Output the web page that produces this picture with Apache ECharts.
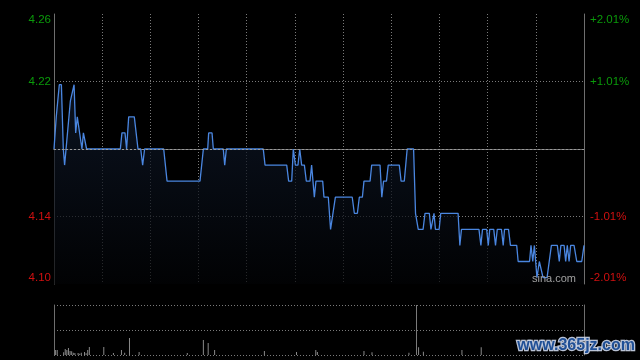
<!DOCTYPE html>
<html>
<head>
<meta charset="utf-8">
<script src="https://cdn.jsdelivr.net/npm/echarts@6/dist/echarts.min.js"></script>
<style>html,body{margin:0;padding:0;background:#000;}#c{width:640px;height:360px;}</style>
</head>
<body>
<div id="c"></div>
<script>
// ---- data ----
const prevClose = 4.18;
const priceMin = 4.096, priceMax = 4.264;
const minutes = [0,1.4,2.5,3.3,4.6,5.8,6.6,10.2,11.2,12.5,13.5,14.5,15.4,17.4,18.3,19.3,20.3,41.3,42.3,44.2,45.2,46.5,50,52.3,54,55.2,56.4,68.3,70.4,90.9,93,95.7,96.3,98.4,99.2,105.4,106.3,107.3,130.3,131.4,144.9,146.1,148,149,150.3,151.9,153,154.2,155.9,157.1,159.4,160.4,161,162.1,163.1,167.3,168.1,170.8,172.2,173.3,175.2,185.7,187,188.9,190.1,192,193,196.8,197.8,203,204.1,205.2,207,208.1,215,216.1,218.1,219.9,223.9,225.1,225.8,226.8,229.8,231,233.7,234.7,235.4,236.6,237.5,239.8,240.8,251.6,252.7,253.7,264.6,265.8,266.8,269.4,270.4,271.3,273.8,274.9,276,278.6,279.7,280.5,283,284.2,288.1,289,296.1,297,298.1,299.1,300.7,302.2,303.4,304.5,307,309.7,313.4,314.6,315.6,317.6,318.6,319.6,320.7,321.7,323.8,325.5,328.6,330];
const prices = [4.18,4.20,4.20,4.22,4.22,4.18,4.17,4.21,4.21,4.22,4.19,4.20,4.20,4.18,4.19,4.19,4.18,4.18,4.19,4.19,4.18,4.20,4.20,4.18,4.18,4.17,4.18,4.18,4.16,4.16,4.18,4.18,4.19,4.19,4.18,4.18,4.17,4.18,4.18,4.17,4.17,4.16,4.16,4.18,4.17,4.17,4.18,4.17,4.17,4.16,4.16,4.17,4.17,4.15,4.16,4.16,4.15,4.15,4.13,4.13,4.15,4.15,4.14,4.14,4.15,4.15,4.16,4.16,4.17,4.17,4.15,4.16,4.16,4.17,4.17,4.16,4.16,4.18,4.18,4.14,4.14,4.13,4.13,4.14,4.14,4.13,4.13,4.14,4.13,4.13,4.14,4.14,4.12,4.13,4.13,4.12,4.13,4.13,4.12,4.13,4.13,4.12,4.13,4.13,4.12,4.13,4.13,4.12,4.12,4.11,4.11,4.12,4.11,4.12,4.10,4.11,4.11,4.10,4.10,4.12,4.12,4.11,4.12,4.12,4.11,4.12,4.11,4.12,4.12,4.11,4.11,4.12];
const volMinutes = [1,2,6,7,8,9,10,11,12,13,15,16,17,19,20,21,22,31,37,42,44,47,53,83,93,96,100,131,151,163,164,193,198,221,227,230,254,266];
const volumes = [5,5,2.7,6,5,7,4,3.7,2.3,2,2,1.3,2.3,3,1.7,5,8,8,2,5,2.3,17,3,2,15,12,5,4,3,5,3,4,2.7,2.3,7.7,3.3,5,7.7];
const priceTickLabels = ['4.10','4.14','','4.22','4.26'];
const pctTickLabels = ['-2.01%','-1.01%','','+1.01%','+2.01%'];
const cursorMinute = 225.4;

const pctStep = 1.005;
const upColor = '#0a9a0a', downColor = '#d01010';
const gridColor = '#7a7a7a', borderColor = '#6e6e6e';
const font = 'Liberation Sans';

const priceData = minutes.map((m, i) => [m, prices[i]]);
const volData = volMinutes.map((m, i) => [m, volumes[i]]);
const idx = v => Math.round(v / pctStep) + 2;

const chart = echarts.init(document.getElementById('c'), null, {renderer: 'canvas'});
chart.setOption({
  backgroundColor: '#000',
  animation: false,
  grid: [
    {left: 54, right: 56, top: 14, height: 270},
    {left: 54, right: 56, top: 305, height: 50}
  ],
  xAxis: [
    {type: 'value', gridIndex: 0, min: 0, max: 330, interval: 30,
     axisLine: {show: true, lineStyle: {color: borderColor}}, axisTick: {show: false}, axisLabel: {show: false},
     splitLine: {show: true, showMinLine: false, showMaxLine: false, lineStyle: {color: gridColor, type: [1, 2]}}},
    {type: 'value', gridIndex: 1, min: 0, max: 330, show: false},
    {type: 'value', gridIndex: 0, position: 'top', min: 0, max: 330,
     axisLine: {show: true, lineStyle: {color: borderColor}}, axisTick: {show: false}, axisLabel: {show: false}, splitLine: {show: false}}
  ],
  yAxis: [
    {type: 'value', gridIndex: 0, min: priceMin, max: priceMax, show: false},
    {type: 'value', gridIndex: 0, position: 'left', min: -2.01, max: 2.01, interval: pctStep,
     axisLine: {show: true, lineStyle: {color: borderColor}}, axisTick: {show: false},
     axisLabel: {margin: 3, fontSize: 11.5, fontFamily: font,
       verticalAlignMinLabel: 'bottom', verticalAlignMaxLabel: 'top',
       formatter: v => priceTickLabels[idx(v)] || '',
       color: v => v > 0 ? upColor : downColor},
     splitLine: {show: true, showMinLine: false, showMaxLine: false, lineStyle: {color: gridColor, type: [1, 2]}}},
    {type: 'value', gridIndex: 0, position: 'right', min: -2.01, max: 2.01, interval: pctStep,
     axisLine: {show: true, lineStyle: {color: borderColor}}, axisTick: {show: false},
     axisLabel: {margin: 6, fontSize: 11.5, fontFamily: font,
       verticalAlignMinLabel: 'bottom', verticalAlignMaxLabel: 'top',
       formatter: v => pctTickLabels[idx(v)] || '',
       color: v => v > 0 ? upColor : downColor},
     splitLine: {show: false}},
    {type: 'value', gridIndex: 1, position: 'left', min: 0, max: 50, interval: 25,
     axisLine: {show: true, lineStyle: {color: borderColor}}, axisTick: {show: false}, axisLabel: {show: false},
     splitLine: {show: true, lineStyle: {color: gridColor, type: [1, 2]}}},
    {type: 'value', gridIndex: 1, position: 'right', min: 0, max: 50,
     axisLine: {show: true, lineStyle: {color: borderColor}}, axisTick: {show: false}, axisLabel: {show: false}, splitLine: {show: false}}
  ],
  series: [
    {type: 'line', xAxisIndex: 0, yAxisIndex: 0, data: priceData, symbol: 'none',
     lineStyle: {color: '#4a86e0', width: 1.3},
     areaStyle: {origin: 'start', color: new echarts.graphic.LinearGradient(0, 0, 0, 1, [
       {offset: 0, color: '#101b2e'}, {offset: 1, color: '#020305'}])},
     markLine: {silent: true, symbol: 'none', label: {show: false},
       lineStyle: {color: '#9a9a9a', type: [2, 2], width: 1},
       data: [{yAxis: prevClose}]}},
    {type: 'bar', xAxisIndex: 1, yAxisIndex: 3, data: volData, barWidth: 1,
     itemStyle: {color: '#8a8a8a'},
     markLine: {silent: true, symbol: 'none', label: {show: false},
       lineStyle: {color: '#7a7a7a', type: 'solid', width: 1},
       data: [{xAxis: cursorMinute}]}}
  ],
  graphic: [
    {type: 'text', left: 532, top: 273, z: 100,
     style: {text: 'sina.com', fill: '#a0a0a0', font: '11px "Liberation Sans"'}},
    {type: 'text', left: 516, top: 336, z: 100,
     style: {text: 'www.365jz.com', fill: '#1f4f96', stroke: 'rgba(205,215,235,0.9)', lineWidth: 2.5,
       font: 'bold 16px "Liberation Sans"'}}
  ]
});
</script>
</body>
</html>
